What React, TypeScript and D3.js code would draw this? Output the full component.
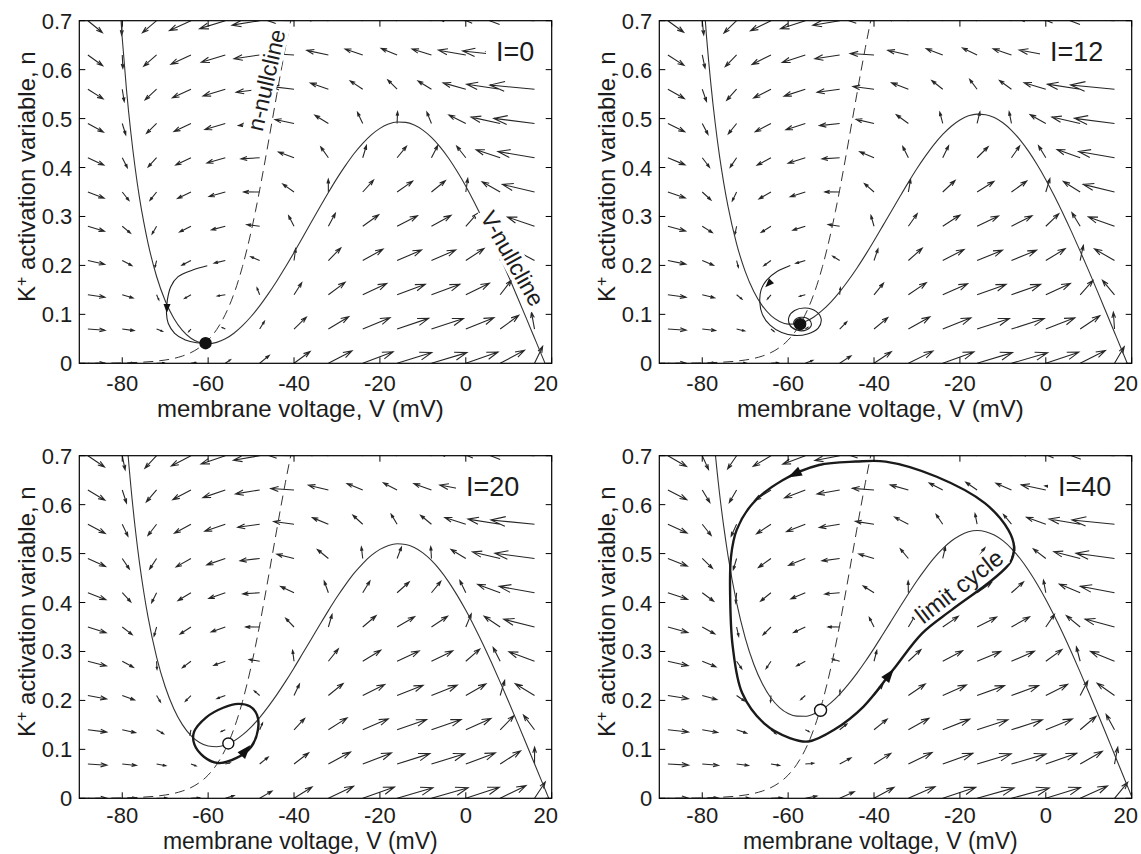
import React from "react";
import * as d3 from "d3";

// Axis ticks and ranges
const V_TICKS = [-80, -60, -40, -20, 0, 20];
const N_TICKS = [0, 0.1, 0.2, 0.3, 0.4, 0.5, 0.6, 0.7];
const V_DOMAIN: [number, number] = [-90, 20];
const N_DOMAIN: [number, number] = [0, 0.7];

// Injected current for each panel
const CURRENTS = [0, 12, 20, 40];
const CURRENT_LABELS = ["I=0", "I=12", "I=20", "I=40"];

// INa,p + IK model parameters (used for the direction field)
const C_M = 1;
const G_L = 8;
const E_L = -78;
const G_NA = 20;
const E_NA = 60;
const G_K = 10;
const E_K = -90;
const M_HALF = -20;
const M_SLOPE = 15;
const N_HALF = -45;
const N_SLOPE = 5;
const TAU_N = 1;

// Direction-field sample grid
const GRID_V = [-88, -80, -72, -64, -56, -48, -40, -32, -24, -16, -8, 0, 8, 16];
const GRID_N = [0, 0.07, 0.14, 0.21, 0.28, 0.35, 0.42, 0.49, 0.56, 0.63, 0.7];

// V-nullcline samples (membrane voltage, mV)
const VNULL_V = [
  -82, -81, -80, -79, -78, -77, -76, -75, -74, -72, -70, -68, -66, -64, -62, -60, -58, -56, -54, -52,
  -50, -48, -46, -44, -42, -40, -38, -36, -34, -32, -30, -28, -26, -24, -22, -20, -18, -16, -14, -12,
  -10, -8, -6, -4, -2, 0, 2, 4, 6, 8, 10, 12, 14, 16, 18, 20,
];
// V-nullcline n values for I = 0, 12, 20, 40
const VNULL_N_I0 = [
  0.96, 0.794, 0.664, 0.558, 0.4715, 0.3996, 0.339, 0.2888, 0.2456, 0.1774, 0.1279, 0.0922, 0.0672,
  0.0512, 0.0425, 0.04, 0.0428, 0.05, 0.0614, 0.0769, 0.0956, 0.1173, 0.1418, 0.1683, 0.1966, 0.2264,
  0.2572, 0.288, 0.3188, 0.349, 0.3779, 0.4043, 0.4286, 0.4494, 0.4668, 0.48, 0.4889, 0.493, 0.4922,
  0.4867, 0.4764, 0.4615, 0.4423, 0.419, 0.3919, 0.3619, 0.3288, 0.2934, 0.256, 0.217, 0.1768, 0.1356,
  0.0938, 0.0517, 0.0095, -0.033,
];
const VNULL_N_I12 = [
  1.11, 0.927, 0.784, 0.667, 0.5715, 0.4919, 0.4247, 0.3688, 0.3206, 0.2441, 0.1879, 0.1467, 0.1172,
  0.0974, 0.0854, 0.08, 0.0803, 0.0853, 0.0947, 0.1085, 0.1256, 0.1459, 0.1691, 0.1943, 0.2216, 0.2504,
  0.2803, 0.3102, 0.3402, 0.3697, 0.3979, 0.4237, 0.4474, 0.4676, 0.4844, 0.4971, 0.5056, 0.5092, 0.508,
  0.5021, 0.4914, 0.4761, 0.4566, 0.433, 0.4056, 0.3752, 0.3418, 0.3062, 0.2685, 0.2292, 0.1888, 0.1474,
  0.1053, 0.063, 0.0206, -0.0221,
];
const VNULL_N_I20 = [
  1.21, 1.016, 0.864, 0.7398, 0.6382, 0.5534, 0.4819, 0.4221, 0.3706, 0.2885, 0.2279, 0.1831, 0.1505,
  0.1281, 0.1139, 0.1067, 0.1053, 0.1088, 0.117, 0.1295, 0.1456, 0.1649, 0.1873, 0.2118, 0.2383, 0.2664,
  0.2957, 0.325, 0.3545, 0.3835, 0.4112, 0.4366, 0.4599, 0.4797, 0.4962, 0.5086, 0.5167, 0.52, 0.5185,
  0.5123, 0.5014, 0.4859, 0.4661, 0.4423, 0.4146, 0.3841, 0.3505, 0.3147, 0.2768, 0.2374, 0.1968, 0.1552,
  0.113, 0.0706, 0.028, -0.0148,
];
const VNULL_N_I40 = [
  1.46, 1.238, 1.064, 0.9216, 0.8048, 0.7073, 0.6247, 0.5555, 0.4956, 0.3996, 0.3279, 0.274, 0.2339,
  0.205, 0.1854, 0.1733, 0.1678, 0.1676, 0.1725, 0.1822, 0.1956, 0.2125, 0.2327, 0.2553, 0.2799, 0.3064,
  0.3341, 0.3621, 0.3902, 0.418, 0.4446, 0.4688, 0.4911, 0.51, 0.5256, 0.5371, 0.5445, 0.5471, 0.5448,
  0.538, 0.5264, 0.5103, 0.4899, 0.4655, 0.4374, 0.4063, 0.3723, 0.336, 0.2977, 0.2578, 0.2168, 0.1748,
  0.1323, 0.0894, 0.0465, 0.0034,
];
const VNULL_N = [VNULL_N_I0, VNULL_N_I12, VNULL_N_I20, VNULL_N_I40];

// n-nullcline samples (same in every panel)
const NNULL_V = [
  -90, -85, -80, -76, -72, -70, -68, -66, -64, -62, -60, -58, -57, -56, -55, -54, -53, -52, -51, -50,
  -49, -48, -47, -46, -45, -44, -43, -42, -41, -40,
];
const NNULL_N = [
  0.0001, 0.0003, 0.0009, 0.002, 0.0045, 0.0067, 0.00995, 0.0148, 0.0219, 0.0323, 0.0474, 0.0691,
  0.0832, 0.0998, 0.1192, 0.1419, 0.168, 0.1978, 0.2315, 0.2689, 0.31, 0.3543, 0.4013, 0.4502, 0.5,
  0.5498, 0.5987, 0.6457, 0.69, 0.7311,
];

// Trajectories ([V, n] pairs)
const TRAJ_I0: [number, number][] = [
  [-60.2, 0.1995], [-63.6, 0.1907], [-67.0, 0.177], [-68.7, 0.1566], [-69.5, 0.129], [-69.7, 0.102],
  [-69.3, 0.0817], [-67.8, 0.0613], [-65.3, 0.0476], [-62.7, 0.0419], [-60.6, 0.041],
];
const TRAJ_I12: [number, number][] = [
  [-59.5, 0.2], [-62.5, 0.188], [-65.0, 0.17], [-66.3, 0.15], [-66.6, 0.125], [-66.0, 0.1],
  [-64.2, 0.078], [-61.5, 0.063], [-58.5, 0.057], [-55.5, 0.06], [-53.0, 0.072], [-52.3, 0.09],
  [-53.5, 0.106], [-56.0, 0.113], [-58.5, 0.108], [-59.8, 0.095], [-59.6, 0.078], [-58.0, 0.068],
  [-55.8, 0.068], [-54.6, 0.078], [-55.2, 0.09], [-57.0, 0.094], [-58.5, 0.088], [-58.6, 0.078],
  [-57.5, 0.072], [-56.2, 0.075], [-56.2, 0.083], [-57.3, 0.086], [-57.9, 0.081], [-57.4, 0.077],
  [-57.2, 0.08],
];
const CYCLE_I20: [number, number][] = [
  [-57.7, 0.072], [-53.5, 0.082], [-50.0, 0.105], [-48.4, 0.14], [-48.6, 0.17], [-50.3, 0.188],
  [-53.0, 0.193], [-56.5, 0.185], [-60.5, 0.165], [-63.3, 0.135], [-63.2, 0.11], [-61.0, 0.085],
];
const CYCLE_I40: [number, number][] = [
  [-55.3, 0.116], [-49.3, 0.14], [-42.5, 0.187], [-35.6, 0.262], [-28.8, 0.337], [-21.9, 0.385],
  [-12.5, 0.446], [-8.2, 0.483], [-7.4, 0.514], [-8.7, 0.548], [-14.2, 0.603], [-25.4, 0.657],
  [-37.3, 0.688], [-44.2, 0.688], [-52.8, 0.681], [-61.3, 0.65], [-68.2, 0.603], [-72.0, 0.548],
  [-73.3, 0.494], [-73.5, 0.412], [-72.9, 0.31], [-70.7, 0.215], [-65.6, 0.153], [-59.6, 0.123],
];

// Direction markers on trajectories: [V, n, towardV, towardN]
const MARKS_I0 = [[-69.6, 0.112, -69.65, 0.095]];
const MARKS_I12 = [[-64.6, 0.162, -65.6, 0.153]];
const MARKS_I20 = [[-51.2, 0.098, -49.8, 0.112]];
const MARKS_I40 = [
  [-58.6, 0.662, -61.3, 0.65],
  [-36.4, 0.253, -34.8, 0.271],
];

// Equilibria: [V, n]
const EQ_POINTS = [[-60.6, 0.041], [-57.2, 0.08], [-55.3, 0.112], [-52.45, 0.18]];
const EQ_STABLE = [true, true, false, false];

// Layout
const SVG_W = 1141;
const SVG_H = 854;
const PW = 472.4;
const PH = 342.6;
const ORIGINS = [
  [79.3, 20.7],
  [659.3, 20.7],
  [79.3, 455.7],
  [659.3, 455.7],
];
const LABEL_X = [416.7, 390.7, 386.7, 398.7];
// tick-label baseline, axis-label baseline and size below each row of panels
const BOTTOM_TEXT = [
  { tick: 27.5, label: 54, size: 24 },
  { tick: 25.2, label: 50.8, size: 23 },
];
const FONT = "'Liberation Sans', Arial, Helvetica, sans-serif";
const INK = "#1c1c1c";

const x = d3.scaleLinear().domain(V_DOMAIN).range([0, PW]);
const y = d3.scaleLinear().domain(N_DOMAIN).range([PH, 0]);

const mInf = (v: number) => 1 / (1 + Math.exp((M_HALF - v) / M_SLOPE));
const nInf = (v: number) => 1 / (1 + Math.exp((N_HALF - v) / N_SLOPE));
const dVdt = (v: number, n: number, I: number) =>
  (I - G_L * (v - E_L) - G_NA * mInf(v) * (v - E_NA) - G_K * n * (v - E_K)) / C_M;
const dndt = (v: number, n: number) => (nInf(v) - n) / TAU_N;

// arrow length grows sub-linearly with speed (in screen units)
const ARROW_GAIN = 0.428;
const ARROW_POWER = 0.6;

function fieldPath(I: number) {
  const kx = PW / (V_DOMAIN[1] - V_DOMAIN[0]);
  const ky = PH / (N_DOMAIN[1] - N_DOMAIN[0]);
  let d = "";
  for (const v of GRID_V) {
    for (const n of GRID_N) {
      const px = dVdt(v, n, I) * kx;
      const py = -dndt(v, n) * ky;
      const mag = Math.hypot(px, py);
      if (mag < 1e-9) continue;
      const L = ARROW_GAIN * Math.pow(mag, ARROW_POWER);
      const ux = px / mag;
      const uy = py / mag;
      const x0 = x(v);
      const y0 = y(n);
      const x1 = x0 + ux * L;
      const y1 = y0 + uy * L;
      const a = 0.33 * L;
      const b = 0.33 * 0.33 * L;
      const bx = x1 - ux * a;
      const by = y1 - uy * a;
      d += `M${x0.toFixed(2)},${y0.toFixed(2)}L${x1.toFixed(2)},${y1.toFixed(2)}`;
      d += `M${(bx - uy * b).toFixed(2)},${(by + ux * b).toFixed(2)}L${x1.toFixed(2)},${y1.toFixed(2)}L${(bx + uy * b).toFixed(2)},${(by - ux * b).toFixed(2)}`;
    }
  }
  return d;
}

function headPath(m: number[], len: number, half: number) {
  const x0 = x(m[0]);
  const y0 = y(m[1]);
  const dx = x(m[2]) - x0;
  const dy = y(m[3]) - y0;
  const h = Math.hypot(dx, dy) || 1;
  const ux = dx / h;
  const uy = dy / h;
  const tx = x0 + ux * len * 0.5;
  const ty = y0 + uy * len * 0.5;
  const bx = x0 - ux * len * 0.5;
  const by = y0 - uy * len * 0.5;
  return `M${tx},${ty}L${bx - uy * half},${by + ux * half}L${bx + uy * half},${by - ux * half}Z`;
}

const nullLine = d3
  .line<[number, number]>()
  .x((d) => x(d[0]))
  .y((d) => y(d[1]))
  .curve(d3.curveMonotoneX);
const trajLine = d3
  .line<[number, number]>()
  .x((d) => x(d[0]))
  .y((d) => y(d[1]))
  .curve(d3.curveCatmullRom.alpha(0.5));
const cycleLine = d3
  .line<[number, number]>()
  .x((d) => x(d[0]))
  .y((d) => y(d[1]))
  .curve(d3.curveCatmullRomClosed.alpha(0.5));

// rotated label on a white box; (cx, cy) is the middle of the lettering
function BoxedLabel({
  cx,
  cy,
  angle,
  text,
  size,
  width,
}: {
  cx: number;
  cy: number;
  angle: number;
  text: string;
  size: number;
  width: number;
}) {
  const h = size * 0.95;
  return (
    <g transform={`translate(${cx},${cy}) rotate(${angle})`}>
      <rect x={-width / 2 - 3} y={-h / 2 - 1} width={width + 6} height={h + 2} fill="#fff" />
      <text x={0} y={size * 0.36} textAnchor="middle" fontSize={size} fill={INK}>
        {text}
      </text>
    </g>
  );
}

function Panel({ idx }: { idx: number }) {
  const [ox, oy] = ORIGINS[idx];
  const I = CURRENTS[idx];
  const vnull: [number, number][] = VNULL_V.map((v, i) => [v, VNULL_N[idx][i]]);
  const nnull: [number, number][] = NNULL_V.map((v, i) => [v, NNULL_N[i]]);
  const clipId = `plot-clip-${idx}`;
  const marks = [MARKS_I0, MARKS_I12, MARKS_I20, MARKS_I40][idx];
  const eq = EQ_POINTS[idx];
  const tick = 6;
  const labelSize = 27;
  const below = BOTTOM_TEXT[idx < 2 ? 0 : 1];
  return (
    <g transform={`translate(${ox},${oy})`}>
      <defs>
        <clipPath id={clipId}>
          <rect x={0} y={0} width={PW} height={PH} />
        </clipPath>
      </defs>
      <g clipPath={`url(#${clipId})`}>
        <path d={fieldPath(I)} fill="none" stroke="#262626" strokeWidth={1.1} />
        <path d={nullLine(nnull) || ""} fill="none" stroke="#333" strokeWidth={1} strokeDasharray="10,6" />
        <path d={nullLine(vnull) || ""} fill="none" stroke="#333" strokeWidth={1.1} />
        {idx === 0 && <path d={trajLine(TRAJ_I0) || ""} fill="none" stroke="#222" strokeWidth={1.1} />}
        {idx === 1 && <path d={trajLine(TRAJ_I12) || ""} fill="none" stroke="#222" strokeWidth={1.1} />}
        {idx === 2 && <path d={cycleLine(CYCLE_I20) || ""} fill="none" stroke="#1a1a1a" strokeWidth={2.4} />}
        {idx === 3 && <path d={cycleLine(CYCLE_I40) || ""} fill="none" stroke="#1a1a1a" strokeWidth={2.4} />}
        {marks.map((m, i) => (
          <path key={i} d={headPath(m, idx >= 2 ? 14 : 9, idx >= 2 ? 5 : 3.5)} fill="#111" />
        ))}
        <circle
          cx={x(eq[0])}
          cy={y(eq[1])}
          r={idx === 3 ? 6 : 5.5}
          fill={EQ_STABLE[idx] ? "#111" : "#fff"}
          stroke="#111"
          strokeWidth={1.4}
        />
        {/* current label on a white box */}
        <rect x={LABEL_X[idx] - 10} y={14} width={PW - LABEL_X[idx] + 10} height={34} fill="#fff" />
        <text x={LABEL_X[idx]} y={40} fontSize={labelSize} fill={INK}>
          {CURRENT_LABELS[idx]}
        </text>
        {idx === 0 && (
          <>
            <BoxedLabel cx={266 - 79.3} cy={80 - 20.7} angle={-77} text="n-nullcline" size={23} width={104} />
            <BoxedLabel cx={512.8 - 79.3} cy={258.4 - 20.7} angle={60.6} text="V-nullcline" size={23} width={106} />
          </>
        )}
        {idx === 3 && (
          <BoxedLabel cx={959 - 659.3} cy={586 - 455.7} angle={-37.7} text="limit cycle" size={24} width={104} />
        )}
      </g>
      {/* frame and inward ticks */}
      <rect x={0} y={0} width={PW} height={PH} fill="none" stroke="#000" strokeWidth={1.2} />
      {V_TICKS.map((v) => (
        <g key={`vt${v}`}>
          <line x1={x(v)} x2={x(v)} y1={PH} y2={PH - tick} stroke="#000" />
          <line x1={x(v)} x2={x(v)} y1={0} y2={tick} stroke="#000" />
          <text x={v === 20 ? x(v) - 6 : x(v)} y={PH + below.tick} textAnchor="middle" fontSize={22} fill={INK}>
            {v}
          </text>
        </g>
      ))}
      {N_TICKS.map((n) => (
        <g key={`nt${n}`}>
          <line x1={0} x2={tick} y1={y(n)} y2={y(n)} stroke="#000" />
          <line x1={PW} x2={PW - tick} y1={y(n)} y2={y(n)} stroke="#000" />
          <text x={-7} y={y(n) + 8} textAnchor="end" fontSize={22} fill={INK}>
            {n === 0 ? "0" : n.toFixed(1)}
          </text>
        </g>
      ))}
      <text x={221} y={PH + below.label} textAnchor="middle" fontSize={below.size} fill={INK}>
        membrane voltage, V (mV)
      </text>
      <text transform={`translate(-44.5,156) rotate(-90)`} textAnchor="middle" fontSize={24} fill={INK}>
        <tspan>K</tspan>
        <tspan dy={-8} fontSize={16}>
          +
        </tspan>
        <tspan dy={8}> activation variable, n</tspan>
      </text>
    </g>
  );
}

export default function App() {
  return (
    <svg
      width={SVG_W}
      height={SVG_H}
      style={{ position: "absolute", left: 0, top: 0, background: "#fff" }}
      fontFamily={FONT}
    >
      <rect width={SVG_W} height={SVG_H} fill="#fff" />
      {CURRENTS.map((_, i) => (
        <Panel key={i} idx={i} />
      ))}
    </svg>
  );
}
